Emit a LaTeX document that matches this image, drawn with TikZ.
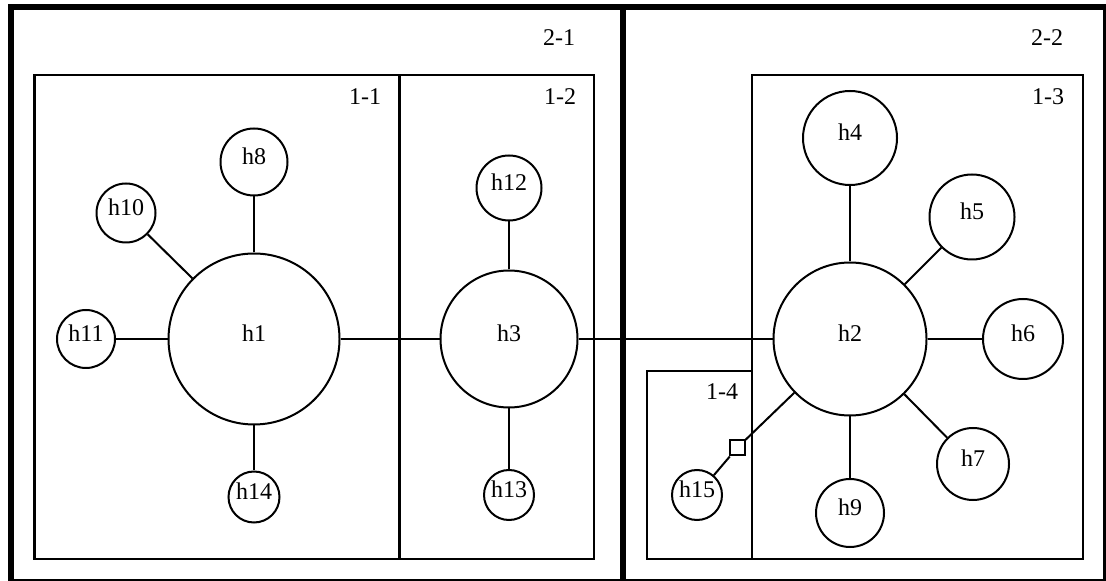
\documentclass[tikz,border=0pt]{standalone}
\usepackage{fontspec}
\setmainfont{Liberation Serif}

\begin{document}
\begin{tikzpicture}[
    x=0.5pt, y=-0.5pt,
    host/.style={circle, draw, line width=1pt, minimum size=#1, inner sep=0pt,
                 text depth=6pt, font=\fontsize{12}{14}\selectfont},
    port/.style={rectangle, draw, line width=1pt, minimum size=7.5pt, inner sep=0pt},
    link/.style={line width=1pt},
    part/.style={line width=1.4pt},
    zone/.style={line width=3pt},
    tag/.style={anchor=base, inner sep=0pt, font=\fontsize{12}{14}\selectfont}
]
\useasboundingbox (0,0) rectangle (1106,581);

% level-2 zones
\draw[zone] (11,7.5) rectangle (1105.5,581.5);
\draw[zone] (623,7.5) -- (623,581.5);

% level-1 parts
\draw[part] (34.5,75) rectangle (399.5,559);
\draw[part] (399.5,75) rectangle (594,559);
\draw[part] (752,75) rectangle (1083,559);
\draw[part] (647,371) rectangle (752,559);

\node[tag] (l21) at (559,46) {2-1};
\node[tag] (l22) at (1047,46) {2-2};
\node[tag] (l11) at (365,105) {1-1};
\node[tag] (l12) at (560,105) {1-2};
\node[tag] (l13) at (1048,105) {1-3};
\node[tag] (l14) at (722,400) {1-4};

% hubs
\node[host=85.5pt] (h1) at (254,339) {h1};
\node[host=68.5pt] (h3) at (509,339) {h3};
\node[host=76.5pt] (h2) at (850,339) {h2};

% hosts around h1
\node[host=33.5pt] (h8) at (254,162) {h8};
\node[host=29.5pt] (h10) at (126,213) {h10};
\node[host=29pt] (h11) at (86,339) {h11};
\node[host=25.5pt] (h14) at (254,497) {h14};

% hosts around h3
\node[host=32.5pt] (h12) at (509,188) {h12};
\node[host=25pt] (h13) at (509,495) {h13};

% hosts around h2
\node[host=47pt] (h4) at (850,138) {h4};
\node[host=42.5pt] (h5) at (972,217) {h5};
\node[host=40pt] (h6) at (1023,339) {h6};
\node[host=36pt] (h7) at (973,464) {h7};
\node[host=34pt] (h9) at (850,513) {h9};
\node[host=25pt] (h15) at (697,495) {h15};
\node[port] (sq) at (737,448) {};

\draw[link] (h1) -- (h3);
\draw[link] (h3) -- (h2);
\draw[link] (h1) -- (h8);
\draw[link] (h1) -- (h10);
\draw[link] (h1) -- (h11);
\draw[link] (h1) -- (h14);
\draw[link] (h3) -- (h12);
\draw[link] (h3) -- (h13);
\draw[link] (h2) -- (h4);
\draw[link] (h2) -- (h5);
\draw[link] (h2) -- (h6);
\draw[link] (h2) -- (h7);
\draw[link] (h2) -- (h9);
\draw[link] (h2) -- (sq);
\draw[link] (sq) -- (h15);

\end{tikzpicture}
\end{document}
